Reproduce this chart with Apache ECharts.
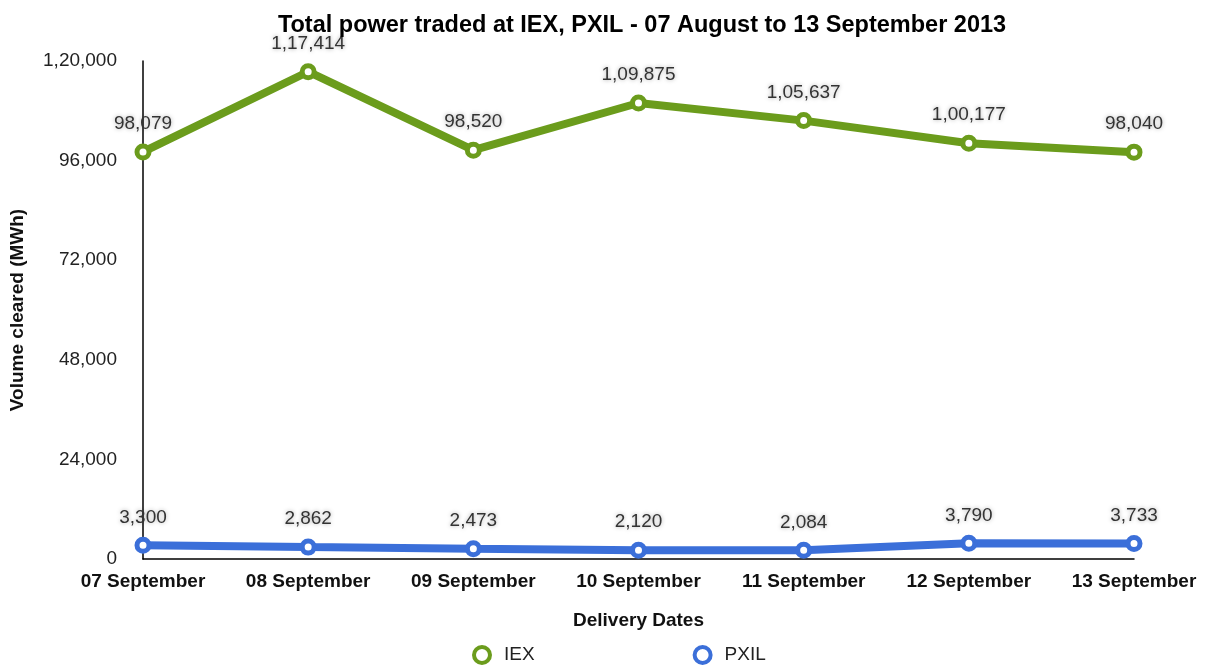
<!DOCTYPE html>
<html>
<head>
<meta charset="utf-8">
<script src="https://cdn.jsdelivr.net/npm/echarts@6/dist/echarts.min.js"></script>
<style>
  body { margin: 0; background: #fff; }
  #main { width: 1210px; height: 668px; }
</style>
</head>
<body>
<div id="main"></div>
<script>
  var dates = ["07 September", "08 September", "09 September", "10 September", "11 September", "12 September", "13 September"];
  var iex = [98079, 117414, 98520, 109875, 105637, 100177, 98040];
  var pxil = [3300, 2862, 2473, 2120, 2084, 3790, 3733];
  var yTicks = [0, 24000, 48000, 72000, 96000, 120000];
  var green = "#6b9c1c";
  var blue = "#3b6fd9";

  // Indian digit grouping: 1,20,000
  function inr(v) {
    var s = String(Math.round(v));
    if (s.length <= 3) return s;
    var last = s.slice(-3);
    var rest = s.slice(0, -3);
    return rest.replace(/\B(?=(\d{2})+(?!\d))/g, ",") + "," + last;
  }

  var myChart = echarts.init(document.getElementById("main"));
  var labelStyle = {
    show: true,
    position: "top",
    distance: 10,
    fontFamily: "Liberation Sans",
    fontSize: 19,
    color: "#333",
    textShadowColor: "rgba(0,0,0,0.35)",
    textShadowBlur: 4,
    formatter: function (p) { return inr(p.value); }
  };
  myChart.setOption({
    animation: false,
    textStyle: { fontFamily: "Liberation Sans" },
    title: {
      text: "Total power traded at IEX, PXIL - 07 August to 13 September 2013",
      left: 637,
      textAlign: "center",
      top: 9,
      textStyle: { fontSize: 23.5, fontWeight: "bold", color: "#000", fontFamily: "Liberation Sans" }
    },
    legend: {
      bottom: -2,
      left: 467,
      itemGap: 158,
      itemWidth: 22,
      itemHeight: 16,
      textStyle: { fontSize: 19, color: "#222", padding: [0, 0, 0, 6] },
      data: [
        { name: "IEX", icon: "circle", itemStyle: { color: "#fff", borderColor: green, borderWidth: 4 } },
        { name: "PXIL", icon: "circle", itemStyle: { color: "#fff", borderColor: blue, borderWidth: 4 } }
      ]
    },
    grid: { left: 142, right: 76, top: 61, bottom: 109 },
    xAxis: {
      type: "category",
      data: dates,
      boundaryGap: false,
      name: "Delivery Dates",
      nameLocation: "middle",
      nameGap: 52,
      nameTextStyle: { fontSize: 19, fontWeight: "bold", color: "#111" },
      axisLine: { lineStyle: { color: "#000", width: 1.5 } },
      axisTick: { show: false },
      axisLabel: { fontSize: 19, fontWeight: "bold", color: "#111", margin: 13 }
    },
    yAxis: {
      type: "value",
      min: 0,
      max: yTicks[yTicks.length - 1],
      interval: 24000,
      name: "Volume cleared (MWh)",
      nameLocation: "middle",
      nameGap: 116,
      nameTextStyle: { fontSize: 19, fontWeight: "bold", color: "#111" },
      axisLine: { show: true, lineStyle: { color: "#000", width: 1.5 } },
      axisTick: { show: false },
      splitLine: { show: false },
      axisLabel: { fontSize: 19, color: "#222", margin: 26, formatter: inr }
    },
    series: [
      {
        name: "IEX",
        type: "line",
        data: iex,
        lineStyle: { width: 8, color: green },
        symbol: "circle",
        symbolSize: 12,
        itemStyle: { color: "#fff", borderColor: green, borderWidth: 5 },
        label: labelStyle
      },
      {
        name: "PXIL",
        type: "line",
        data: pxil,
        lineStyle: { width: 8, color: blue },
        symbol: "circle",
        symbolSize: 12,
        itemStyle: { color: "#fff", borderColor: blue, borderWidth: 5 },
        label: labelStyle
      }
    ]
  });
</script>
</body>
</html>
